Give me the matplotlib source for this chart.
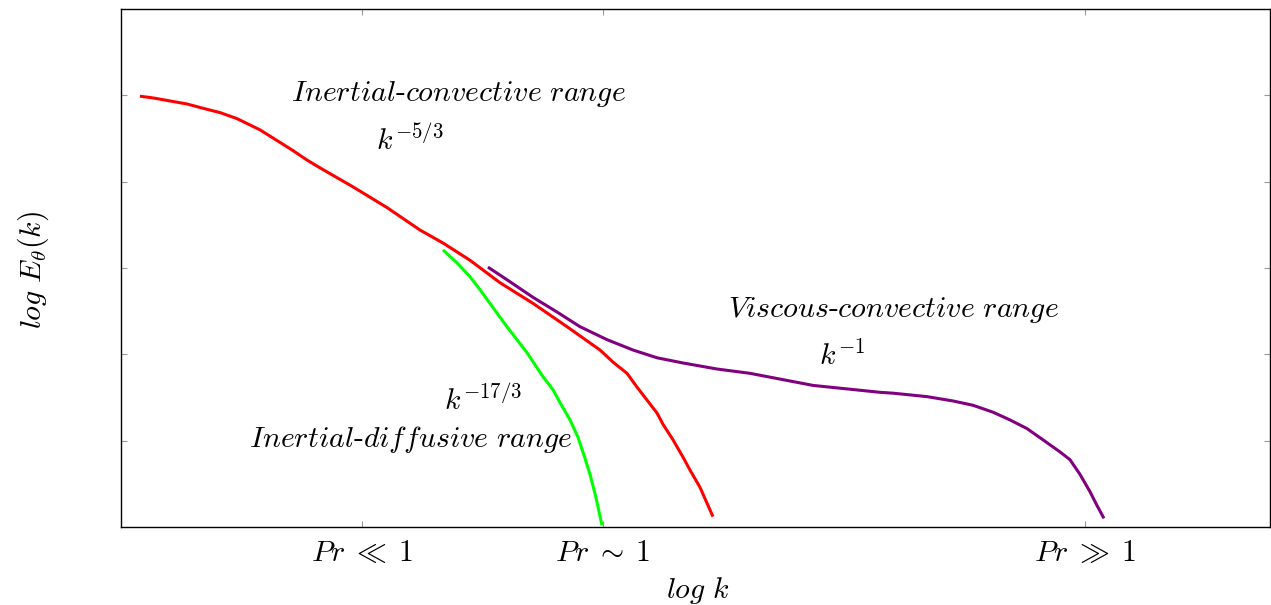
import matplotlib
matplotlib.use("Agg")
import matplotlib.pyplot as plt

plt.rcParams['font.family'] = 'serif'
plt.rcParams['font.serif'] = ['cmr10']
plt.rcParams['mathtext.fontset'] = 'cm'
plt.rcParams['axes.unicode_minus'] = False

# Red curve (Pr ~ 1)
red_x = [0.165, 0.279, 0.574, 0.714, 0.862, 1.010, 1.210, 1.497,
         1.619, 1.732, 2.019, 2.315, 2.602, 2.802, 3.037, 3.298, 3.586, 3.882, 4.169,
         4.282, 4.404, 4.491, 4.578, 4.665, 4.717, 4.804, 4.891, 4.952, 5.039, 5.152]
red_y = [4.99, 4.97, 4.90, 4.85, 4.80, 4.73, 4.60, 4.36,
         4.25, 4.16, 3.94, 3.70, 3.44, 3.29, 3.09, 2.83, 2.59, 2.32, 2.05,
         1.91, 1.78, 1.62, 1.47, 1.32, 1.19, 1.01, 0.81, 0.66, 0.46, 0.12]

# Green curve (Pr << 1)
green_x = [2.802, 2.924, 3.037, 3.124, 3.211, 3.359, 3.446, 3.533, 3.673, 3.760,
           3.821, 3.908, 3.977, 4.030, 4.082, 4.134, 4.186]
green_y = [3.21, 3.06, 2.90, 2.75, 2.59, 2.32, 2.17, 2.02, 1.74, 1.59,
           1.44, 1.24, 1.04, 0.83, 0.61, 0.34, 0.02]

# Purple curve (Pr >> 1)
purple_x = [3.194, 3.386, 3.586, 3.795, 3.995, 4.230, 4.456, 4.665, 4.891, 5.187,
            5.474, 6.023, 6.606, 6.719, 7.015, 7.241, 7.415, 7.589, 7.737, 7.885,
            8.024, 8.172, 8.259, 8.346, 8.433, 8.494, 8.555]
purple_y = [3.01, 2.84, 2.66, 2.49, 2.32, 2.17, 2.05, 1.96, 1.90, 1.83,
            1.78, 1.64, 1.56, 1.55, 1.51, 1.46, 1.41, 1.33, 1.24, 1.14,
            1.01, 0.87, 0.78, 0.61, 0.41, 0.25, 0.10]

xtick_pos = [2.097, 4.195, 8.390]
xtick_labels = [r'$Pr\;\ll\;1$', r'$Pr\;\sim\;1$', r'$Pr\;\gg\;1$']
ytick_pos = [1, 2, 3, 4, 5]

fig = plt.figure(figsize=(12.71, 6.05), dpi=100)
ax = fig.add_axes([121/1271, 1 - 527/605, 1149/1271, 518/605])

lw = 2.2
for xs, ys, c in [(red_x, red_y, '#ff0000'), (green_x, green_y, '#00ff00'),
                  (purple_x, purple_y, '#800080')]:
    ax.plot(xs, ys, color=c, lw=lw, solid_joinstyle='round', solid_capstyle='butt')

ax.set_xlim(0, 10)
ax.set_ylim(0, 6)
ax.set_xticks(xtick_pos)
ax.set_xticklabels(xtick_labels, fontsize=21.5)
ax.set_yticks(ytick_pos)
ax.set_yticklabels([])
ax.tick_params(direction='in', length=4.5, width=0.8, color='#999999',
               top=True, right=True, pad=9)
for s in ax.spines.values():
    s.set_linewidth(1.0)
    s.set_color('black')

fs = 21.5
ax.text(2.933, 5.02, r'$Inertial$-$convective\ range$', fontsize=fs, ha='center', va='center')
ax.text(2.515, 4.48, r'$k^{-5/3}$', fontsize=fs, ha='center', va='center')
ax.text(6.719, 2.51, r'$Viscous$-$convective\ range$', fontsize=fs, ha='center', va='center')
ax.text(6.275, 1.99, r'$k^{-1}$', fontsize=fs, ha='center', va='center')
ax.text(3.151, 1.47, r'$k^{-17/3}$', fontsize=fs, ha='center', va='center')
ax.text(2.524, 1.01, r'$Inertial$-$diffusive\ range$', fontsize=fs, ha='center', va='center')

fig.text(698/1271, 1 - 590/605, r'$log\ k$', fontsize=fs, ha='center', va='center')
fig.text(33/1271, 1 - 270/605, r'$log\ E_\theta(k)$', fontsize=fs, ha='center', va='center', rotation=90)

fig.savefig('out.png', dpi=100)
